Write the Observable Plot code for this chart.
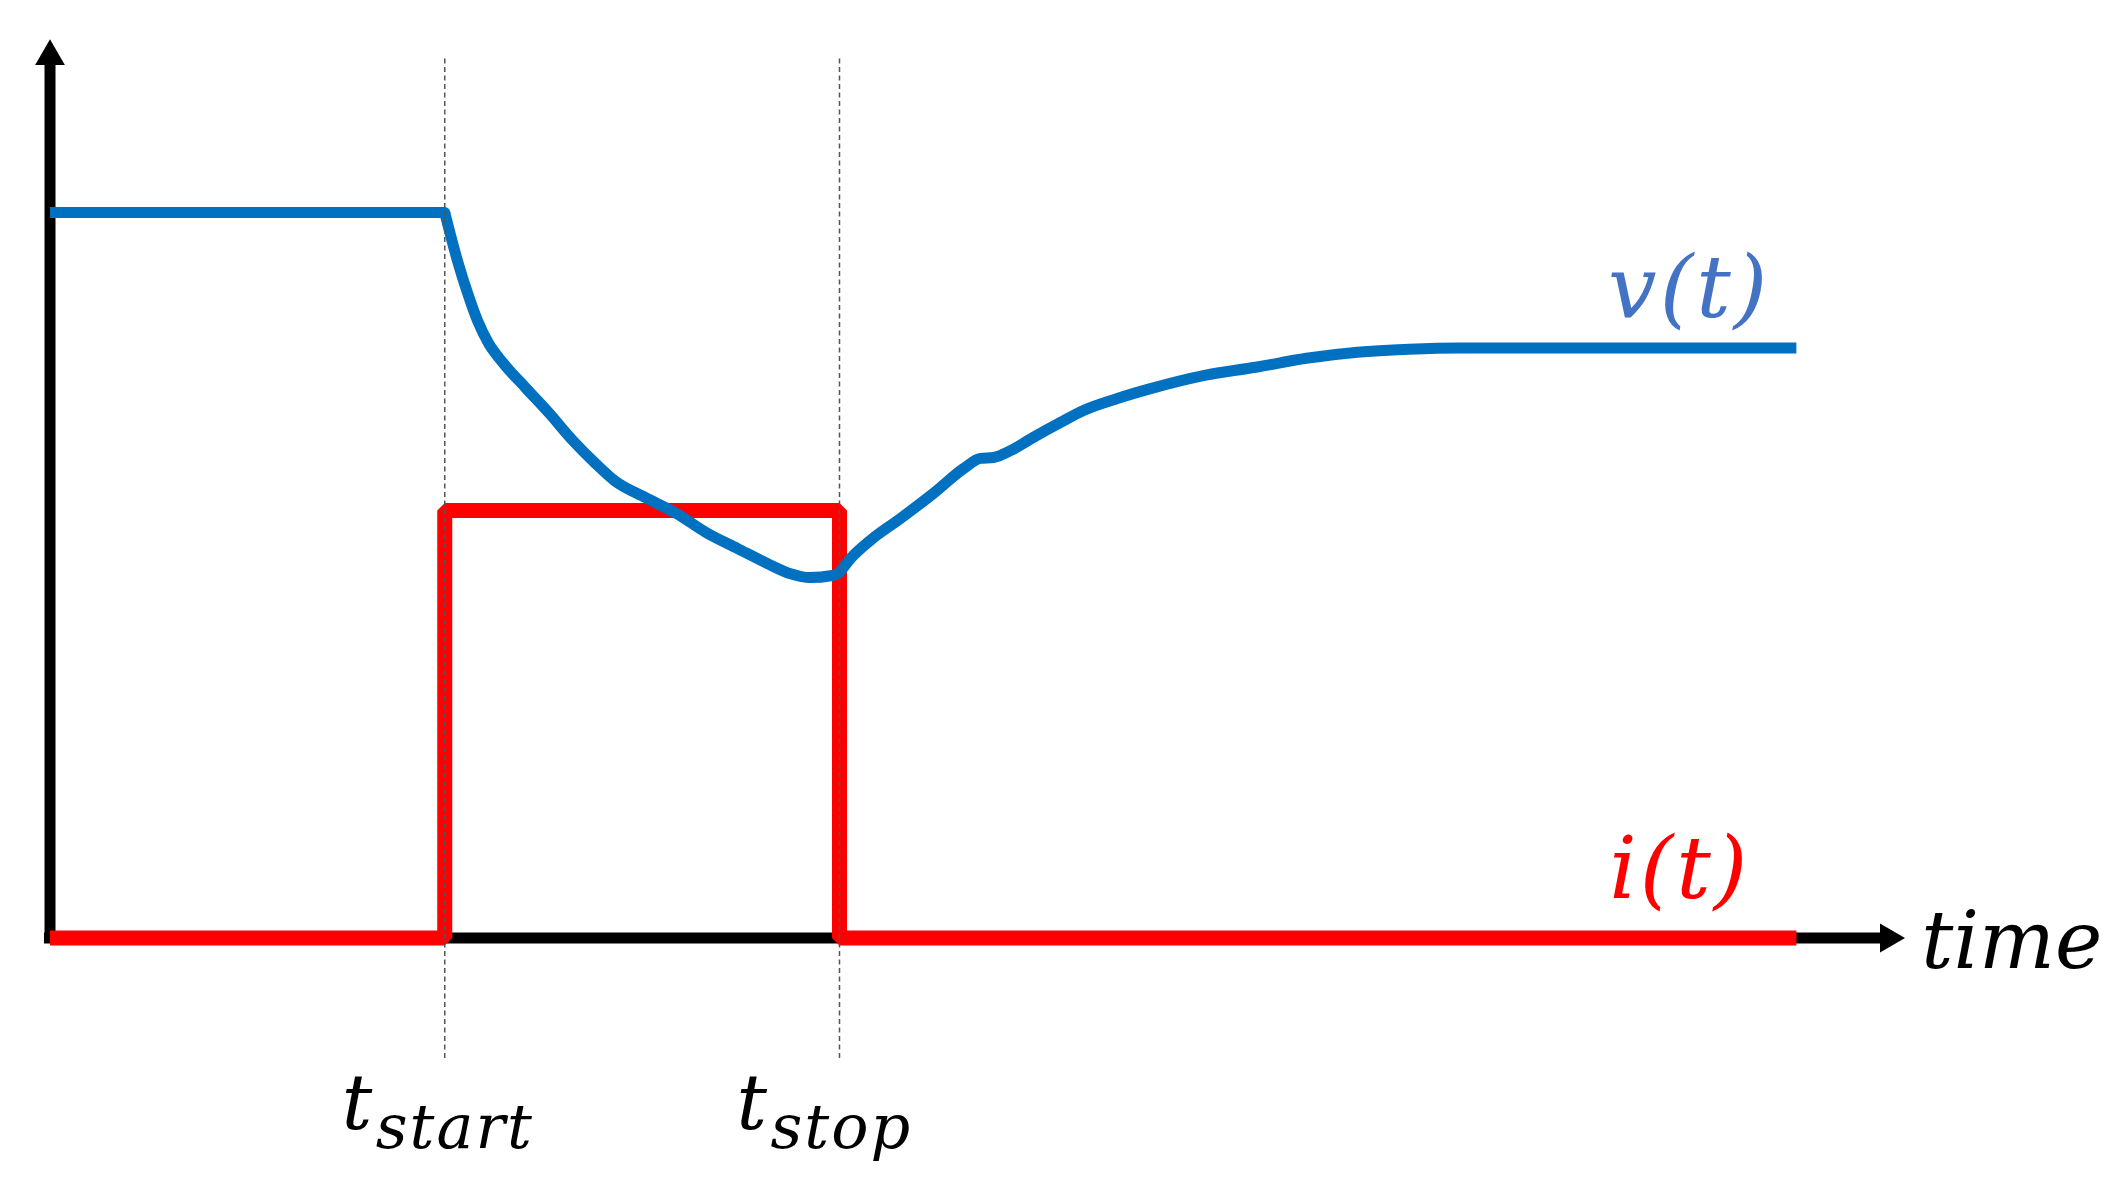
<!DOCTYPE html>
<html>
<head>
<meta charset="utf-8">
<script src="https://cdn.jsdelivr.net/npm/d3@7"></script>
<script src="https://cdn.jsdelivr.net/npm/@observablehq/plot@0.6"></script>
<style>
  html, body { margin: 0; padding: 0; background: #fff; }
  #chart svg { display: block; }
</style>
</head>
<body>
<div id="chart"></div>
<script>
// ---- data (time in units where t_start = 1, t_stop = 2; amplitude in units where current step = 1)
const markerTimes = [1, 2];
const markerNames = ["start", "stop"];

const currentTimes  = [0, 1, 1, 2, 2, 4.424];
const currentValues = [0, 0, 1, 1, 0, 0];

const voltageTimes  = [0, 1.0, 1.032, 1.058, 1.083, 1.111, 1.149, 1.207, 1.265, 1.324, 1.382, 1.430, 1.509, 1.587, 1.663, 1.742, 1.817, 1.876, 1.924, 1.982, 1.995, 2.028, 2.078, 2.154, 2.238, 2.314, 2.357, 2.390, 2.433, 2.491, 2.560, 2.618, 2.704, 2.788, 2.925, 3.054, 3.183, 3.312, 3.442, 3.570, 4.424];
const voltageValues = [1.697, 1.697, 1.585, 1.508, 1.444, 1.391, 1.344, 1.285, 1.227, 1.164, 1.110, 1.070, 1.030, 0.993, 0.948, 0.911, 0.876, 0.852, 0.843, 0.848, 0.852, 0.888, 0.930, 0.981, 1.040, 1.098, 1.122, 1.124, 1.140, 1.171, 1.206, 1.234, 1.262, 1.285, 1.316, 1.335, 1.356, 1.370, 1.377, 1.380, 1.380];

const seriesLabels = ["v(t)", "i(t)"];
const axisLabel = "time";
const axisEnds = {x: 4.657, y: 2.062};

// ---- tables
const current = currentTimes.map((t, i) => ({t, v: currentValues[i]}));
const voltage = voltageTimes.map((t, i) => ({t, v: voltageValues[i]}));
const markers = markerTimes.map((t, i) => ({t, name: markerNames[i]}));
const voltageBefore = voltage.filter(d => d.t <= markerTimes[0]);
const voltageAfter = voltage.filter(d => d.t >= markerTimes[0]);
const voltageCorner = voltage.filter(d => d.t === markerTimes[0]);
const lastV = voltage[voltage.length - 1];
const lastI = current[current.length - 1];

const font = "DejaVu Serif";
const blue = "#0070C0";

const chart = Plot.plot({
  width: 2124,
  height: 1193,
  margin: 0,
  x: {domain: [0, 5], range: [49.5, 49.5 + 5 * 394.75], axis: null},
  y: {domain: [0, 2], range: [937.5, 937.5 - 2 * 427.5], axis: null},
  style: {background: "#fff"},
  marks: [
    // axes
    Plot.ruleY([0], {x1: -0.014, x2: axisEnds.x, stroke: "#000", strokeWidth: 11}),
    Plot.ruleX([0], {y1: -0.013, y2: axisEnds.y, stroke: "#000", strokeWidth: 11}),
    Plot.dot([{t: 0, v: axisEnds.y}], {x: "t", y: "v", symbol: "triangle2", r: 14.2, fill: "#000", stroke: null}),
    Plot.dot([{t: axisEnds.x, v: 0}], {x: "t", y: "v", symbol: "triangle2", r: 13.8, fill: "#000", stroke: null, rotate: 90}),
    // current
    Plot.line(current, {x: "t", y: "v", stroke: "#FF0000", strokeWidth: 15, strokeLinejoin: "miter", strokeLinecap: "butt"}),
    // voltage
    Plot.line(voltageBefore, {x: "t", y: "v", stroke: blue, strokeWidth: 11, strokeLinecap: "butt"}),
    Plot.line(voltageAfter, {x: "t", y: "v", stroke: blue, strokeWidth: 11, curve: "monotone-x", strokeLinejoin: "round", strokeLinecap: "butt"}),
    Plot.dot(voltageCorner, {x: "t", y: "v", r: 5.5, fill: blue, stroke: null}),
    // marker dashed lines
    Plot.ruleX(markers, {x: "t", y1: -0.282, y2: 2.062, stroke: "#555", strokeWidth: 1.5, strokeDasharray: "5,3.5"}),
    // marker labels
    Plot.text(markers, {x: "t", y: 0, text: () => "t", textAnchor: "start", lineAnchor: "bottom", dx: -103, dy: 190.5,
      fontFamily: font, fontStyle: "italic", fontSize: 76, fill: "#000"}),
    Plot.text(markers, {x: "t", y: 0, text: "name", textAnchor: "start", lineAnchor: "bottom", dx: -69, dy: 209.5,
      fontFamily: font, fontStyle: "italic", fontSize: 62, fill: "#000", className: "sub"}),
    // series labels
    Plot.text([lastV], {x: "t", y: "v", text: () => seriesLabels[0], textAnchor: "end", lineAnchor: "bottom", dx: -26, dy: -31,
      fontFamily: font, fontStyle: "italic", fontSize: 86, fill: "#4472C4", className: "series"}),
    Plot.text([lastI], {x: "t", y: "v", text: () => seriesLabels[1], textAnchor: "end", lineAnchor: "bottom", dx: -46, dy: -40,
      fontFamily: font, fontStyle: "italic", fontSize: 86, fill: "#FF0000", className: "series"}),
    Plot.text([{t: axisEnds.x, v: 0}], {x: "t", y: "v", text: () => axisLabel, textAnchor: "start", lineAnchor: "bottom", dx: 33, dy: 29.5,
      fontFamily: font, fontStyle: "italic", fontSize: 80, fill: "#000"})
  ]
});

d3.select(chart).selectAll("g.sub text").attr("letter-spacing", 2);
d3.select(chart).selectAll("g.series text").attr("letter-spacing", 3);

document.getElementById("chart").appendChild(chart);
</script>
</body>
</html>
